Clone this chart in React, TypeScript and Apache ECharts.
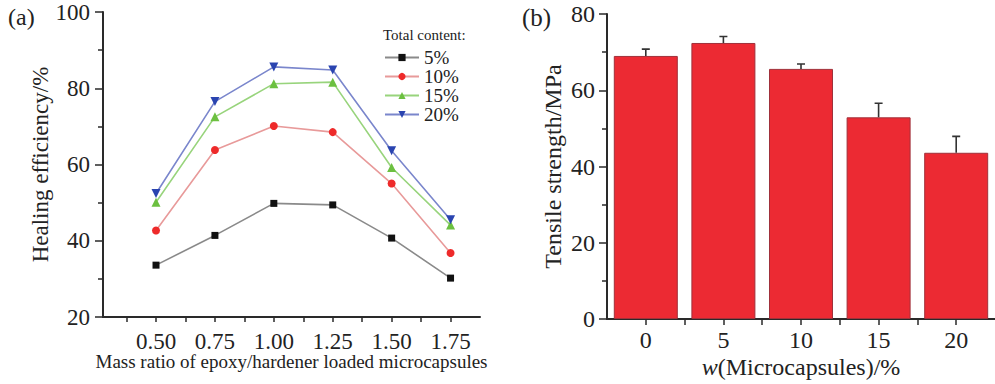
import React, { useEffect, useRef } from "react";
import * as echarts from "echarts";

const ratioValues = [0.5, 0.75, 1.0, 1.25, 1.5, 1.75];
const ratioTickLabels = [0.5, 0.75, 1.0, 1.25, 1.5, 1.75];
const ratioTicks = [0.375, 0.5, 0.625, 0.75, 0.875, 1.0, 1.125, 1.25, 1.375, 1.5, 1.625, 1.75];
const seriesNames = ["5%", "10%", "15%", "20%"];
const eff5 = [33.6, 41.4, 49.8, 49.4, 40.7, 30.2];
const eff10 = [42.7, 63.8, 70.1, 68.5, 55.0, 36.8];
const eff15 = [50.1, 72.5, 81.2, 81.6, 59.2, 44.1];
const eff20 = [52.4, 76.5, 85.6, 84.8, 63.6, 45.5];

const microContent = [0, 5, 10, 15, 20];
const microTicks = [0, 2.5, 5, 7.5, 10, 12.5, 15, 17.5, 20];
const tensile = [69.0, 72.4, 65.6, 52.9, 43.6];
const tensileErr = [1.8, 1.7, 1.3, 3.7, 4.3];

const FONT = "Liberation Serif";
const AXIS = "#2a2a2a";
const TXT = "#222";

export default function App() {
  const ref = useRef<HTMLDivElement>(null);
  useEffect(() => {
    const chart = echarts.init(ref.current!, null, { renderer: "svg" });
    const pairs = (ys: number[]) => ratioValues.map((x, i) => [x, ys[i]]);
    const lineSeries = (name: string, ys: number[], lineColor: string, markColor: string, symbol: string, size: number, rotate = 0) => ({
      type: "line",
      name,
      xAxisIndex: 0,
      yAxisIndex: 0,
      data: pairs(ys),
      symbol,
      symbolSize: size,
      symbolRotate: rotate,
      lineStyle: { color: lineColor, width: 1.6 },
      itemStyle: { color: markColor },
    });
    const axisCommon = {
      axisLine: { show: true, onZero: false, lineStyle: { color: AXIS, width: 2 } },
      splitLine: { show: false },
    };
    chart.setOption({
      animation: false,
      textStyle: { fontFamily: FONT },
      grid: [
        { left: 103, top: 12, width: 377, height: 305 },
        { left: 607, top: 14, width: 394, height: 307 },
      ],
      xAxis: [
        {
          gridIndex: 0,
          type: "value",
          min: 0.275,
          max: 1.875,
          ...axisCommon,
          axisTick: { show: true, length: 5, customValues: ratioTicks, lineStyle: { color: AXIS, width: 1.5 } },
          axisLabel: {
            customValues: ratioTickLabels,
            formatter: (v: number) => v.toFixed(2),
            fontSize: 23,
            lineHeight: 19,
            color: TXT,
            margin: 15,
            fontFamily: FONT,
          },
          name: "Mass ratio of epoxy/hardener loaded microcapsules",
          nameLocation: "middle",
          nameMoveOverlap: false,
          nameGap: 36,
          nameTextStyle: { fontSize: 19, lineHeight: 17, color: TXT, fontFamily: FONT },
        },
        {
          gridIndex: 1,
          type: "value",
          min: -2.5,
          max: 22.5,
          ...axisCommon,
          axisTick: { show: true, length: 6, customValues: microTicks, lineStyle: { color: AXIS, width: 1.5 } },
          axisLabel: {
            customValues: microContent,
            fontSize: 24,
            lineHeight: 20,
            color: TXT,
            margin: 11,
            fontFamily: FONT,
          },
          name: "{i|w}(Microcapsules)/%",
          nameLocation: "middle",
          nameMoveOverlap: false,
          nameGap: 38,
          nameTextStyle: {
            fontSize: 24,
            lineHeight: 20,
            color: TXT,
            fontFamily: FONT,
            rich: { i: { fontStyle: "italic", fontSize: 24, lineHeight: 20, fontFamily: FONT, color: TXT } },
          },
        },
      ],
      yAxis: [
        {
          gridIndex: 0,
          type: "value",
          min: 20,
          max: 100,
          interval: 20,
          ...axisCommon,
          axisTick: { show: true, length: 8, lineStyle: { color: AXIS, width: 1.5 } },
          minorTick: { show: true, splitNumber: 2, length: 5, lineStyle: { color: AXIS, width: 1.5 } },
          axisLabel: { fontSize: 23, color: TXT, margin: 13, fontFamily: FONT },
          name: "Healing efficiency/%",
          nameLocation: "middle",
          nameGap: 50,
          nameTextStyle: { fontSize: 23, color: TXT, fontFamily: FONT },
        },
        {
          gridIndex: 1,
          type: "value",
          min: 0,
          max: 80,
          interval: 20,
          ...axisCommon,
          axisTick: { show: true, length: 8, lineStyle: { color: AXIS, width: 1.5 } },
          minorTick: { show: true, splitNumber: 2, length: 5, lineStyle: { color: AXIS, width: 1.5 } },
          axisLabel: { fontSize: 24, color: TXT, margin: 12, fontFamily: FONT },
          name: "Tensile strength/MPa",
          nameLocation: "middle",
          nameGap: 42,
          nameTextStyle: { fontSize: 24, color: TXT, fontFamily: FONT },
        },
      ],
      legend: {
        data: seriesNames,
        orient: "vertical",
        left: 379,
        top: 43,
        itemWidth: 34,
        itemHeight: 9,
        itemGap: 0,
        textStyle: { fontSize: 19, lineHeight: 18, color: TXT, fontFamily: FONT },
      },
      graphic: [
        { type: "text", left: 8, top: 5, style: { text: "(a)", fontSize: 24, fontFamily: FONT, fill: TXT } },
        { type: "text", left: 522, top: 5, style: { text: "(b)", fontSize: 25, fontFamily: FONT, fill: TXT } },
        { type: "text", left: 383, top: 27, style: { text: "Total content:", fontSize: 15, fontFamily: FONT, fill: TXT } },
      ],
      series: [
        lineSeries(seriesNames[0], eff5, "#8a8a8a", "#111111", "rect", 7),
        lineSeries(seriesNames[1], eff10, "#e89a9a", "#ee2a2a", "circle", 8),
        lineSeries(seriesNames[2], eff15, "#98d47c", "#6cc040", "triangle", 9),
        lineSeries(seriesNames[3], eff20, "#7a86cc", "#2a44b0", "triangle", 9, 180),
        {
          type: "bar",
          xAxisIndex: 1,
          yAxisIndex: 1,
          data: microContent.map((x, i) => [x, tensile[i]]),
          barWidth: 64,
          itemStyle: { color: "#ec2a33", borderColor: "#a0303a", borderWidth: 1 },
        },
        {
          type: "custom",
          xAxisIndex: 1,
          yAxisIndex: 1,
          encode: { x: 0, y: [1, 2] },
          data: microContent.map((x, i) => [x, tensile[i], tensile[i] + tensileErr[i]]),
          renderItem: (params: any, api: any) => {
            const base = api.coord([api.value(0), api.value(1)]);
            const top = api.coord([api.value(0), api.value(2)]);
            return {
              type: "polyline",
              shape: {
                points: [
                  [base[0], base[1]],
                  [top[0], top[1]],
                  [top[0] - 4, top[1]],
                  [top[0] + 4, top[1]],
                ],
              },
              style: { stroke: "#333", lineWidth: 1.6, fill: null },
            };
          },
          z: 5,
        },
      ],
    });
    return () => chart.dispose();
  }, []);
  return <div ref={ref} style={{ position: "absolute", left: 0, top: 0, width: 995, height: 384 }} />;
}
